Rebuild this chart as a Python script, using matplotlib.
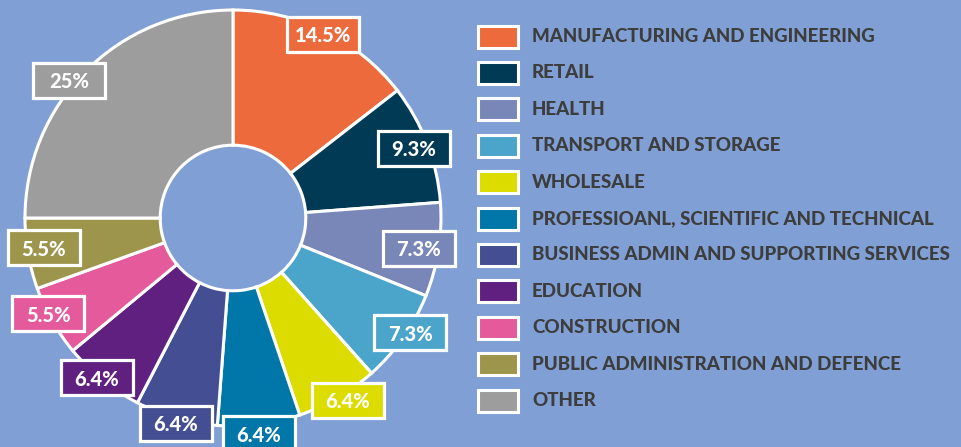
import numpy as np
import matplotlib
matplotlib.use("Agg")
import matplotlib.pyplot as plt
from matplotlib.patches import Rectangle

sectors = ["MANUFACTURING AND ENGINEERING", "RETAIL", "HEALTH", "TRANSPORT AND STORAGE",
           "WHOLESALE", "PROFESSIOANL, SCIENTIFIC AND TECHNICAL",
           "BUSINESS ADMIN AND SUPPORTING SERVICES", "EDUCATION", "CONSTRUCTION",
           "PUBLIC ADMINISTRATION AND DEFENCE", "OTHER"]
shares = [14.5, 9.3, 7.3, 7.3, 6.4, 6.4, 6.4, 6.4, 5.5, 5.5, 25]
colors = ["#ec6a3c", "#003a54", "#7986b8", "#4ba5cb", "#dcdc00", "#0077a8",
          "#434f92", "#5f2080", "#e45a9a", "#9e954c", "#9d9d9d"]

bg = "#80a0d5"
W, H = 961, 447
fig = plt.figure(figsize=(W / 100, H / 100), dpi=100, facecolor=bg)

# pie centre (233, 218) px, radius 208 px
cx, cy, R = 233, 218, 208
ax = fig.add_axes([(cx - R) / W, (H - cy - R) / H, 2 * R / W, 2 * R / H])
ax.set_facecolor(bg)

wedges, _ = ax.pie(shares, colors=colors, startangle=90, counterclock=False,
                   wedgeprops=dict(width=0.65, edgecolor="white", linewidth=2.2))
ax.set_xlim(-1, 1)
ax.set_ylim(-1, 1)
ax.set_aspect("equal")
ax.axis("off")

# label placement: radius factor and angle nudge (deg) from wedge middle
label_r = [0.985, 0.93, 0.905, 1.015, 1.035, 1.045, 1.025, 1.01, 1.0, 0.92, 1.03]
label_da = [0, 0, -0.5, 2.2, 2, -0.3, 0.3, -1.6, -2.3, -1, 5]
bw, bh = 72 / R, 35 / R
for w, c, s, r, da in zip(wedges, colors, shares, label_r, label_da):
    ang = np.deg2rad((w.theta1 + w.theta2) / 2 + da)
    x, y = r * np.cos(ang), r * np.sin(ang)
    ax.add_patch(Rectangle((x - bw / 2, y - bh / 2), bw, bh, facecolor=c,
                           edgecolor="white", linewidth=2.3, clip_on=False, zorder=5))
    ax.text(x, y, f"{s:g}%", ha="center", va="center_baseline", color="white",
            fontsize=14.5, fontweight="black", family="Lato", zorder=6, clip_on=False)

# legend
for i, (lab, c) in enumerate(zip(sectors, colors)):
    yc = 36.5 + i * 36.4
    fig.patches.append(Rectangle((478 / W, 1 - (yc + 11) / H), 40 / W, 22 / H,
                                 transform=fig.transFigure, facecolor=c,
                                 edgecolor="white", linewidth=2.2))
    fig.text(532 / W, 1 - yc / H, lab, ha="left", va="center", color="#3d3d3d",
             fontsize=13.5, fontweight="black", family="Lato")

fig.savefig("out.png", dpi=100, facecolor=bg)
